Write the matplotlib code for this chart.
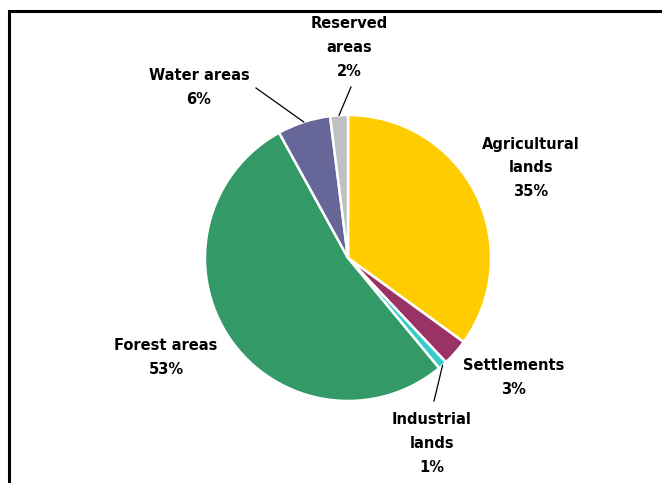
import numpy as np
import matplotlib
matplotlib.use('Agg')
import matplotlib.pyplot as plt

# land use shares (%), clockwise from 12 o'clock
labels = ['Agricultural\nlands', 'Settlements', 'Industrial\nlands',
          'Forest areas', 'Water areas', 'Reserved\nareas']
shares = [35, 3, 1, 53, 6, 2]
colors = ['#FFCC00', '#993366', '#33CCCC', '#339966', '#666699', '#C0C0C0']

W, H = 662, 483
cx, cy, r = 348, 258, 143          # pie centre / radius in pixels (from top)

# label block centres (pixels from top-left)
label_pos = [(531, 168), (514, 378), (432, 443), (166, 357), (199, 87), (349, 48)]
# leader line start points, None = no leader
leader_start = [None, None, (434, 401), None, (256, 88), (351, 87)]

fig = plt.figure(figsize=(W / 100, H / 100), dpi=100)
ax = fig.add_axes([0, 0, 1, 1])

wedges, _ = ax.pie(shares, colors=colors, startangle=90, counterclock=False,
                   center=(cx, H - cy), radius=r,
                   wedgeprops=dict(edgecolor='white', linewidth=1.8))
ax.set_xlim(0, W)
ax.set_ylim(0, H)
ax.set_aspect('equal')
ax.axis('off')

font = {'family': 'DejaVu Sans', 'size': 10.5, 'weight': 'bold'}
for i, w in enumerate(wedges):
    x, y = label_pos[i]
    ax.text(x, H - y, "{}\n{}%".format(labels[i], shares[i]), ha='center', va='center',
            linespacing=1.75, fontdict=font)
    if leader_start[i] is not None:
        mid = np.deg2rad((w.theta1 + w.theta2) / 2.0)
        ex, ey = cx + r * np.cos(mid), (H - cy) + r * np.sin(mid)
        sx, sy = leader_start[i]
        ax.plot([sx, ex], [H - sy, ey], color='black', lw=0.9)

# chart frame (left and top edge visible)
ax.plot([9, 9, W], [0, H - 11, H - 11], color='black', lw=2.2, solid_joinstyle='miter')

plt.savefig("out.png", dpi=100)
